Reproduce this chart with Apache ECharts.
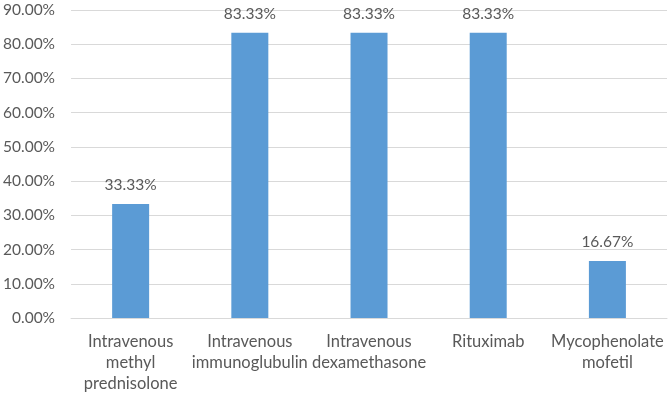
<!DOCTYPE html>
<html>
<head>
<meta charset="utf-8">
<script src="https://cdn.jsdelivr.net/npm/echarts@6/dist/echarts.min.js"></script>
<style>
  html, body { margin: 0; padding: 0; background: #fff; }
  #chart { width: 669px; height: 395px; }
</style>
</head>
<body>
<div id="chart"></div>
<script>
  const categories = [
    "Intravenous\nmethyl\nprednisolone",
    "Intravenous\nimmunoglubulin",
    "Intravenous\ndexamethasone",
    "Rituximab",
    "Mycophenolate\nmofetil"
  ];
  const values = [33.33, 83.33, 83.33, 83.33, 16.67];

  const font = "Lato, 'Open Sans', sans-serif";
  const textColor = "#595959";

  const chart = echarts.init(document.getElementById("chart"));
  chart.setOption({
    animation: false,
    grid: { left: 70, right: 2, top: 10, bottom: 77 },
    xAxis: {
      type: "category",
      data: categories,
      axisLine: { lineStyle: { color: "#d9d9d9", width: 1 } },
      axisTick: { show: false },
      axisLabel: {
        color: textColor, fontFamily: font, fontSize: 16.5,
        lineHeight: 21, margin: 13, interval: 0
      }
    },
    yAxis: {
      type: "value",
      min: 0, max: 90, interval: 10,
      axisLine: { show: false },
      axisTick: { show: false },
      axisLabel: {
        color: textColor, fontFamily: font, fontSize: 15.5, margin: 16,
        formatter: v => v.toFixed(2) + "%"
      },
      splitLine: { lineStyle: { color: "#d9d9d9", width: 1 } }
    },
    series: [{
      type: "bar",
      data: values,
      barWidth: 37,
      itemStyle: { color: "#5b9bd5" },
      label: {
        show: true, position: "top", distance: 11,
        color: textColor, fontFamily: font, fontSize: 15.5,
        formatter: p => p.value.toFixed(2) + "%"
      }
    }]
  });
</script>
</body>
</html>
